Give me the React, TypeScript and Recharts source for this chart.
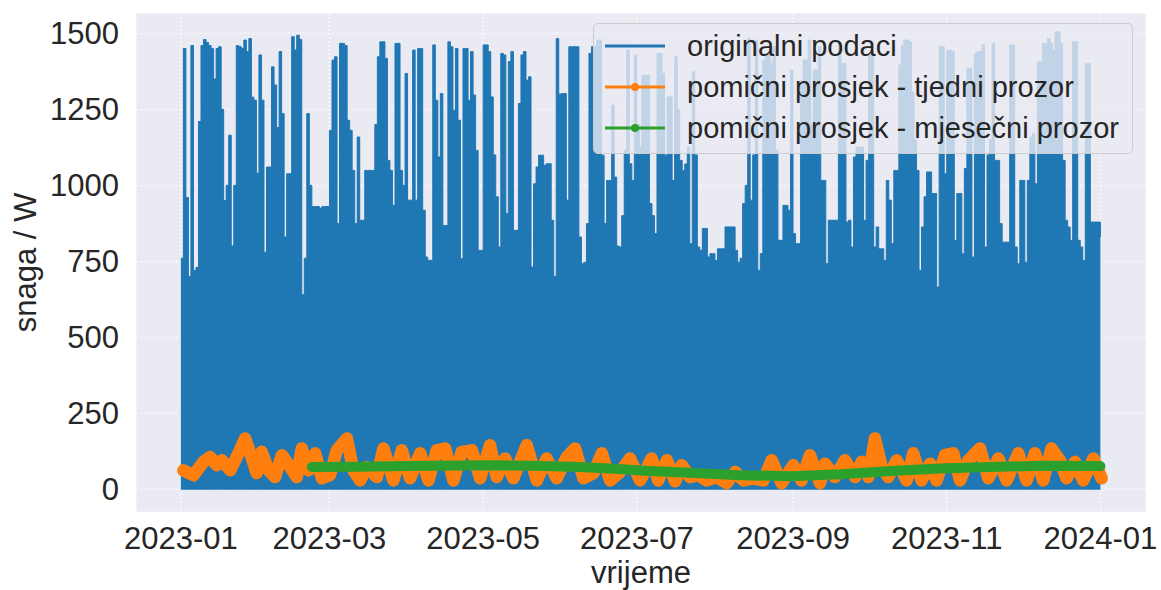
import React from "react";
import { ComposedChart, Area, Line, XAxis, YAxis, CartesianGrid } from "recharts";

const DAY = 86400000;
const START = Date.UTC(2023, 0, 1);

// daily peak of the raw hourly power (W), 2023-01-01 .. 2024-01-01
const dailyPeak = [
  760, 1450, 960, 700, 1460, 720, 730, 1210, 1460, 1480, 1470, 1460, 1450, 1350, 1450, 1456, 1250, 950, 1000, 1165,
  800, 1000, 1460, 1456, 1450, 1478, 1440, 1483, 1290, 1280, 1040, 1429, 1280, 780, 1060, 1060, 1390, 1330, 1190, 1440,
  1236, 830, 1038, 1038, 1489, 1445, 1494, 1480, 640, 760, 1236, 1000, 930, 930, 930, 925, 930, 930, 930, 1181,
  1412, 1423, 874, 1467, 1467, 1460, 1214, 1181, 1049, 874, 1159, 885, 885, 1049, 1049, 1049, 1049, 1200, 1423, 1472,
  1472, 1418, 1082, 1049, 934, 1467, 1467, 1049, 1000, 1368, 951, 951, 1445, 951, 1450, 1450, 918, 764, 753, 753,
  1462, 1280, 1093, 1302, 868, 868, 1472, 1456, 1247, 1450, 1214, 758, 1450, 1450, 1280, 1440, 1297, 1115, 786, 786,
  1462, 1462, 1440, 1291, 1100, 962, 797, 1434, 1429, 907, 1407, 1440, 852, 852, 1269, 1429, 1440, 1346, 1357, 731,
  1005, 1060, 1099, 1099, 1066, 1071, 1071, 885, 700, 1483, 1300, 1302, 1302, 951, 1456, 1456, 1456, 1456, 830, 742,
  747, 874, 1434, 1456, 1456, 1478, 1478, 1099, 874, 1016, 1016, 1264, 1027, 800, 797, 900, 1115, 1445, 1071, 1016,
  1429, 1200, 1126, 1362, 1362, 1362, 940, 900, 841, 1434, 1434, 1368, 1099, 1291, 1291, 1016, 1423, 1250, 1082, 1049,
  1070, 1126, 808, 1374, 1100, 797, 786, 858, 858, 764, 775, 775, 753, 791, 791, 791, 863, 863, 863, 863,
  786, 747, 760, 940, 1000, 1483, 951, 1100, 1478, 720, 775, 1412, 1434, 1434, 1401, 1456, 1115, 819, 819, 934,
  934, 918, 1379, 841, 808, 808, 1346, 1412, 1412, 1478, 1200, 1379, 1379, 1456, 1016, 1016, 742, 885, 885, 885,
  885, 1467, 1401, 1401, 879, 885, 797, 1093, 1126, 1126, 1126, 885, 1082, 1429, 1429, 797, 863, 791, 791, 753,
  1016, 951, 808, 1049, 1049, 1396, 1461, 1478, 1478, 1472, 1307, 1150, 1049, 720, 863, 962, 1044, 1044, 973, 973,
  665, 1456, 1456, 1038, 1445, 1445, 1440, 819, 973, 973, 775, 1055, 1385, 1385, 764, 1434, 1440, 1440, 1462, 797,
  1100, 1150, 1467, 1082, 1082, 874, 813, 813, 813, 1462, 1462, 797, 742, 1016, 1016, 747, 1016, 1159, 1170, 1005,
  1407, 1407, 1467, 1467, 1483, 1467, 1445, 1505, 1505, 1467, 1082, 885, 863, 819, 1472, 1472, 819, 797, 753, 1401,
  1401, 879, 879, 879, 879, 830,
];

// weekly moving average: day offset from 2023-01-01 and value (W)
const weeklyDays = [
  1.0, 5.0, 9.0, 11.6, 14.3, 16.3, 19.6, 22.9, 25.5, 27.5, 30.1, 32.1, 34.8, 37.4, 40.1, 43.4, 46.0, 48.0, 50.7, 53.3,
  56.0, 59.2, 61.9, 65.9, 68.5, 71.2, 73.8, 77.8, 80.4, 84.4, 87.7, 91.0, 95.0, 98.3, 101.6, 104.9, 108.2, 111.5, 115.5, 118.8,
  122.7, 125.4, 128.7, 132.0, 137.3, 141.3, 145.2, 149.2, 153.2, 156.5, 159.8, 163.8, 167.1, 170.4, 174.4, 178.3, 182.3, 186.9, 189.5, 192.9,
  196.2, 198.8, 202.1, 205.4, 208.7, 212.7, 216.7, 220.0, 223.3, 227.2, 231.2, 234.5, 238.5, 243.1, 246.4, 249.7, 253.7, 255.7, 259.6, 263.6,
  267.6, 270.2, 272.9, 275.5, 278.2, 280.8, 284.1, 288.1, 290.7, 294.0, 297.4, 300.0, 303.3, 306.6, 309.3, 312.6, 317.2, 320.5, 324.5, 327.8,
  332.4, 335.7, 339.0, 342.3, 345.6, 348.9, 351.6, 354.9, 358.2, 362.2, 365.5,
];
const weeklyVals = [
  62, 46, 90, 106, 79, 95, 62, 118, 167, 120, 53, 123, 62, 40, 112, 73, 40, 134, 62, 118,
  36, 46, 128, 167, 62, 29, 73, 40, 134, 29, 128, 36, 118, 29, 128, 134, 29, 123, 128, 36,
  145, 40, 101, 36, 145, 29, 101, 36, 106, 134, 36, 53, 118, 29, 57, 101, 29, 101, 29, 95,
  26, 79, 40, 46, 29, 40, 20, 57, 29, 36, 29, 95, 20, 79, 29, 112, 20, 84, 40, 95,
  40, 90, 40, 167, 73, 40, 95, 29, 118, 29, 84, 29, 112, 118, 29, 95, 134, 36, 101, 29,
  118, 29, 118, 29, 134, 95, 36, 90, 29, 101, 36,
];

// monthly moving average
const monthlyDays = [52, 70, 90, 110, 125, 140, 158, 172, 186, 200, 222, 242, 262, 282, 301, 321, 341, 365];
const monthlyVals = [73, 74, 76, 78, 79, 77, 73, 67, 60, 55, 46, 43, 49, 60, 68, 73, 77, 76];

const xTickDates = ["2023-01-01", "2023-03-01", "2023-05-01", "2023-07-01", "2023-09-01", "2023-11-01", "2024-01-01"];
const yTicks = [0, 250, 500, 750, 1000, 1250, 1500];

const rawData = dailyPeak.map((v, i) => ({ t: START + i * DAY, range: [0, v] }));
const weeklyData = weeklyDays.map((d, i) => ({ t: START + d * DAY, v: weeklyVals[i] }));
const monthlyData = monthlyDays.map((d, i) => ({ t: START + d * DAY, v: monthlyVals[i] }));
const xTicks = xTickDates.map((s) => Date.parse(s + "T00:00:00Z"));

const fmtMonth = (ms: number) => {
  const d = new Date(ms);
  return `${d.getUTCFullYear()}-${String(d.getUTCMonth() + 1).padStart(2, "0")}`;
};

const TEXT = "#262626";
const FONT = '"Liberation Sans", Arial, sans-serif';

const legendItems = [
  { label: "originalni podaci", color: "#1f77b4", dot: false },
  { label: "pomični prosjek - tjedni prozor", color: "#ff7f0e", dot: true },
  { label: "pomični prosjek - mjesečni prozor", color: "#2ca02c", dot: true },
];

function LegendBox() {
  return (
    <div
      style={{
        position: "absolute",
        left: 593,
        top: 23,
        width: 540,
        height: 131,
        boxSizing: "border-box",
        border: "1px solid #cccccc",
        borderRadius: 5,
        background: "rgba(234,234,242,0.8)",
      }}
    >
      {legendItems.map((it, i) => (
        <div
          key={it.label}
          style={{ position: "absolute", left: 10, top: 6 + i * 41, height: 32, display: "flex", alignItems: "center" }}
        >
          <svg width={62} height={12} style={{ display: "block" }}>
            <line x1={1} x2={61} y1={6} y2={6} stroke={it.color} strokeWidth={3} />
            {it.dot && <circle cx={31} cy={6} r={4} fill={it.color} />}
          </svg>
          <span style={{ marginLeft: 21, fontSize: 29, color: TEXT, whiteSpace: "nowrap", lineHeight: "32px" }}>
            {it.label}
          </span>
        </div>
      ))}
    </div>
  );
}

export default function App() {
  return (
    <div style={{ position: "absolute", left: 0, top: 0, width: 1161, height: 590, fontFamily: FONT, background: "#fff" }}>
      <ComposedChart width={1161} height={590} margin={{ top: 13, right: 15, bottom: 0, left: 0 }}>
        <CartesianGrid fill="#eaeaf2" stroke="#ffffff" strokeDasharray="2 2" strokeWidth={1} />
        <XAxis
          dataKey="t"
          type="number"
          domain={[START - 17.8 * DAY, START + 383.1 * DAY]}
          allowDataOverflow
          ticks={xTicks}
          tickFormatter={fmtMonth}
          axisLine={false}
          tickLine={false}
          tickSize={0}
          tickMargin={15}
          height={78}
          tick={{ fill: TEXT, fontSize: 31 }}
          label={{ value: "vrijeme", position: "insideBottom", offset: 7, fill: TEXT, fontSize: 31 }}
        />
        <YAxis
          type="number"
          domain={[-75, 1567]}
          allowDataOverflow
          ticks={yTicks}
          axisLine={false}
          tickLine={false}
          tickSize={0}
          tickMargin={17}
          width={136}
          tick={{ fill: TEXT, fontSize: 31 }}
          label={{
            value: "snaga / W",
            angle: -90,
            position: "insideLeft",
            offset: 25,
            fill: TEXT,
            fontSize: 31,
            style: { textAnchor: "middle" },
          }}
        />
        <Area
          data={rawData}
          dataKey="range"
          type="stepAfter"
          stroke="#1f77b4"
          strokeWidth={1}
          fill="#1f77b4"
          fillOpacity={1}
          isAnimationActive={false}
          dot={false}
          activeDot={false}
        />
        <Line
          data={weeklyData}
          dataKey="v"
          type="linear"
          stroke="#ff7f0e"
          strokeWidth={12.5}
          strokeLinecap="round"
          strokeLinejoin="round"
          dot={false}
          activeDot={false}
          isAnimationActive={false}
        />
        <Line
          data={monthlyData}
          dataKey="v"
          type="linear"
          stroke="#2ca02c"
          strokeWidth={10}
          strokeLinecap="round"
          strokeLinejoin="round"
          dot={false}
          activeDot={false}
          isAnimationActive={false}
        />
      </ComposedChart>
      <LegendBox />
    </div>
  );
}
